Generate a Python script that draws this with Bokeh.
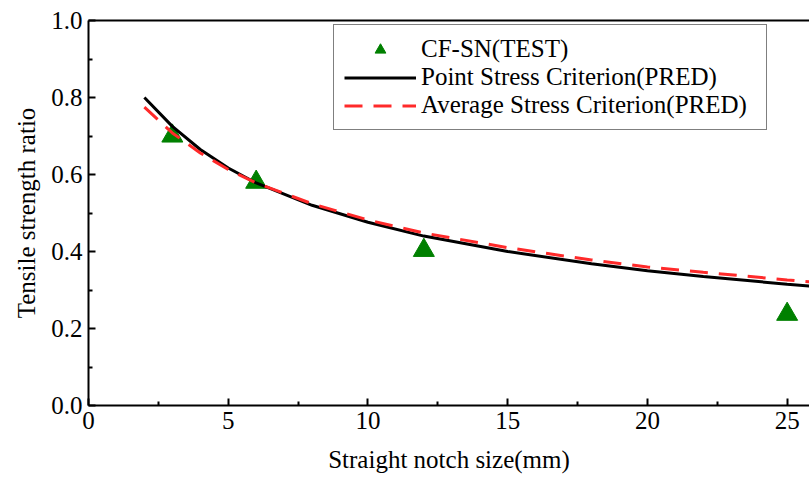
from bokeh.plotting import figure
from bokeh.models import LinearAxis, Legend, LegendItem, FixedTicker, Range1d, NumeralTickFormatter
from bokeh.embed import file_html
from bokeh.resources import INLINE

# Data
test_x = [3, 6, 12, 25]
test_y = [0.70, 0.58, 0.403, 0.237]

psc_x = [2, 3, 4, 5, 6, 8, 10, 12, 15, 18, 20, 22, 25, 26]
psc_y = [0.80, 0.725, 0.665, 0.617, 0.578, 0.52, 0.476, 0.44, 0.40, 0.368, 0.35, 0.335, 0.315, 0.309]

asc_x = [2, 3, 4, 5, 6, 8, 10, 12, 15, 18, 20, 22, 25, 26]
asc_y = [0.775, 0.708, 0.656, 0.613, 0.578, 0.524, 0.482, 0.448, 0.41, 0.378, 0.36, 0.346, 0.326, 0.32]

x_ticks = [0, 5, 10, 15, 20, 25]
y_ticks = [0.0, 0.2, 0.4, 0.6, 0.8, 1.0]

FONT = "Liberation Serif"
FS = "25px"

p = figure(width=809, height=477, output_backend="svg", toolbar_location=None,
           x_range=Range1d(0, 25.8), y_range=Range1d(0, 1.0),
           min_border_left=88, min_border_right=0, min_border_top=20, min_border_bottom=72,
           x_axis_label="Straight notch size(mm)", y_axis_label="Tensile strength ratio")
p.outline_line_color = None
p.background_fill_color = "white"
p.border_fill_color = "white"
p.xgrid.visible = False
p.ygrid.visible = False

for ax in (p.xaxis[0], p.yaxis[0]):
    ax.axis_line_width = 2
    ax.axis_line_color = "black"
    ax.major_tick_in = 7
    ax.major_tick_out = 0
    ax.minor_tick_in = 4
    ax.minor_tick_out = 0
    ax.major_tick_line_width = 2
    ax.minor_tick_line_width = 2
    ax.major_label_text_font = FONT
    ax.major_label_text_font_size = FS
    ax.major_label_text_color = "black"
    ax.axis_label_text_font = FONT
    ax.axis_label_text_font_size = FS
    ax.axis_label_text_font_style = "normal"
    ax.axis_label_text_color = "#000000"

p.xaxis[0].ticker = FixedTicker(ticks=x_ticks, minor_ticks=[2.5, 7.5, 12.5, 17.5, 22.5])
p.yaxis[0].ticker = FixedTicker(ticks=y_ticks, minor_ticks=[0.1, 0.3, 0.5, 0.7, 0.9])
p.yaxis[0].formatter = NumeralTickFormatter(format="0.0")
p.xaxis[0].major_label_standoff = 6
p.yaxis[0].major_label_standoff = 6
p.xaxis[0].axis_label_standoff = 14
p.yaxis[0].axis_label_standoff = 8

top = LinearAxis(ticker=FixedTicker(ticks=[]), major_label_text_font_size="0px",
                 axis_line_width=2, axis_line_color="black",
                 major_tick_in=0, major_tick_out=0, minor_tick_in=0, minor_tick_out=0)
p.add_layout(top, "above")

r_test = p.scatter(test_x, test_y, marker="triangle", size=21, color="green", line_color="green")
r_psc = p.line(psc_x, psc_y, line_color="black", line_width=3)
r_asc = p.line(asc_x, asc_y, line_color="#ff2a2a", line_width=3, line_dash="18 11")

legend = Legend(items=[LegendItem(label="CF-SN(TEST)", renderers=[r_test]),
                       LegendItem(label="Point Stress Criterion(PRED)", renderers=[r_psc]),
                       LegendItem(label="Average Stress Criterion(PRED)", renderers=[r_asc])],
                location=(245, 275))
legend.label_text_font = FONT
legend.label_text_font_size = FS
legend.label_text_color = "black"
legend.glyph_width = 72
legend.glyph_height = 27
legend.label_standoff = 5
legend.label_width = 335
legend.spacing = 0
legend.padding = 10
legend.margin = 0
legend.border_line_color = "black"
legend.border_line_width = 1
legend.background_fill_alpha = 1
p.add_layout(legend, "center")

open("out.html", "w").write(file_html(p, INLINE))
